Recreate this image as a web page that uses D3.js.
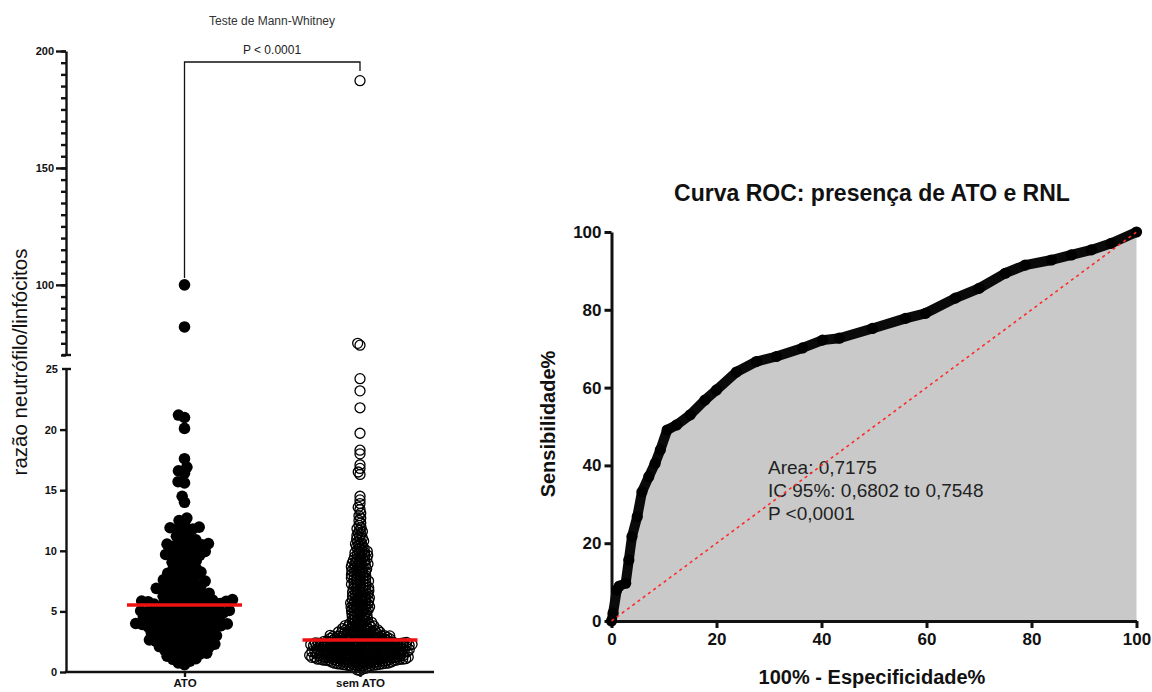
<!DOCTYPE html>
<html><head><meta charset="utf-8">
<script src="https://cdn.jsdelivr.net/npm/d3@7"></script>
<style>body{margin:0;background:#fff}svg{display:block}</style>
</head><body>
<svg id="c" width="1152" height="692"></svg>
<script>
// ---------- DATA ----------
const categories = ["ATO", "sem ATO"];
const atoValues = [
 0.6,0.75,0.9,
 1.05,1.1,1.2,1.3,1.35,1.45,1.5,1.55,1.65,1.75,1.8,1.85,1.95,
 2.0,2.05,2.1,2.15,2.2,2.3,2.35,2.4,2.45,2.5,2.55,2.6,2.65,2.7,2.75,2.8,2.85,2.9,2.95,
 3.0,3.05,3.1,3.15,3.2,3.25,3.3,3.35,3.4,3.45,3.5,3.55,3.6,3.65,3.7,3.72,3.75,3.8,3.82,3.85,3.9,3.93,3.97,
 4.0,4.03,4.07,4.1,4.15,4.2,4.25,4.3,4.33,4.37,4.4,4.45,4.5,4.55,4.6,4.63,4.67,4.7,4.75,4.8,4.83,4.87,4.9,4.93,4.97,
 5.0,5.04,5.08,5.12,5.16,5.2,5.25,5.3,5.35,5.4,5.45,5.5,5.55,5.6,5.64,5.68,5.72,5.76,5.78,5.8,5.83,5.86,5.9,5.94,5.97,
 6.05,6.1,6.2,6.25,6.3,6.35,6.45,6.5,6.6,6.65,6.7,6.75,6.8,6.9,6.95,
 7.05,7.1,7.2,7.3,7.35,7.4,7.5,7.6,7.7,7.75,7.85,7.95,
 8.05,8.15,8.25,8.3,8.4,8.5,8.6,8.75,8.85,8.95,
 9.05,9.2,9.3,9.45,9.55,9.6,9.65,9.7,9.85,9.95,
 10.05,10.15,10.25,10.35,10.45,10.5,10.55,10.6,10.7,10.8,10.9,
 11.05,11.2,11.4,11.6,11.75,11.8,11.9,11.95,
 12.2,12.5,12.7,
 14.0,14.5,15.6,15.7,16.4,16.6,16.9,17.6,20.1,21.0,21.2,82.0,100.0
];
const semAtoValues = [
 0.12,0.18,0.25,0.3,0.34,0.38,0.43,0.47,
 0.5,0.51,0.53,0.54,0.56,0.57,0.59,0.6,0.61,0.62,0.63,0.64,0.66,0.67,0.68,0.7,0.71,0.72,0.73,0.74,0.75,0.76,
 0.78,0.79,0.8,0.81,0.82,0.83,0.84,0.85,0.87,0.88,0.89,0.9,0.9,0.91,0.92,0.93,0.94,0.95,0.95,0.96,0.97,0.98,0.99,
 1.00,1.01,1.01,1.02,1.03,1.03,1.04,1.05,1.06,1.06,1.07,1.08,1.09,1.09,1.10,1.11,1.12,1.12,1.13,1.14,
 1.15,1.15,1.16,1.17,1.18,1.18,1.19,1.20,1.21,1.21,1.22,1.23,1.24,1.24,1.25,1.26,1.27,1.27,1.28,1.29,
 1.30,1.30,1.31,1.32,1.33,1.33,1.34,1.35,1.36,1.36,1.37,1.38,1.39,1.39,1.40,1.41,1.42,1.42,1.43,1.44,
 1.45,1.46,1.47,1.49,
 1.50,1.51,1.51,1.52,1.53,1.53,1.54,1.55,1.56,1.56,1.57,1.58,1.59,1.59,1.60,1.61,1.62,1.62,1.63,1.64,
 1.65,1.65,1.66,1.67,1.68,1.68,1.69,1.70,1.71,1.71,1.72,1.73,1.74,1.74,1.75,1.76,1.77,1.77,1.78,1.79,
 1.80,1.80,1.81,1.82,1.83,1.83,1.84,1.85,1.86,1.86,1.87,1.88,1.89,1.89,1.90,1.91,1.92,1.92,1.93,1.94,
 1.95,1.96,1.97,1.99,
 2.00,2.01,2.02,2.02,2.03,2.04,2.05,2.05,2.05,2.06,2.07,2.08,2.08,2.09,2.10,2.11,2.11,2.12,2.13,2.14,
 2.14,2.15,2.15,2.16,2.17,2.18,2.18,2.19,2.20,2.21,2.21,2.22,2.23,2.23,2.24,2.24,2.25,2.26,2.27,2.27,
 2.28,2.29,2.30,2.30,2.31,2.32,2.32,2.33,2.34,2.34,2.35,2.36,2.37,2.37,2.38,2.39,2.40,2.40,2.41,2.41,
 2.42,2.43,2.44,2.44,2.45,2.46,2.47,2.47,2.48,2.49,
 2.50,2.51,2.52,2.53,2.55,2.56,2.57,2.58,2.59,2.60,2.62,2.63,2.64,2.65,2.66,2.67,2.69,2.70,2.71,2.72,
 2.73,2.74,2.76,2.77,2.78,2.79,2.80,2.81,2.83,2.84,2.85,2.86,2.87,2.88,2.90,2.91,2.92,2.93,2.94,2.95,
 2.97,2.98,2.99,
 3.00,3.02,3.03,3.05,3.07,3.08,3.10,3.12,3.13,3.15,3.17,3.18,3.20,3.22,3.23,3.25,3.27,3.28,3.30,3.32,
 3.33,3.35,3.37,3.38,3.40,3.42,3.43,3.45,3.47,3.49,
 3.51,3.53,3.56,3.58,3.61,3.63,3.66,3.68,3.71,3.73,3.76,3.78,3.81,3.83,3.86,3.88,3.91,3.93,3.96,3.98,
 4.02,4.06,4.1,4.14,4.18,4.22,4.26,4.3,4.34,4.38,4.42,4.46,4.5,4.54,4.58,4.62,4.66,4.7,4.74,4.78,4.82,4.86,4.91,4.96,
 5.02,5.05,5.07,5.11,5.16,5.2,5.25,5.29,5.3,5.34,5.38,5.43,5.47,5.52,5.55,5.56,5.61,5.65,5.7,5.74,5.79,5.8,5.83,5.88,5.92,5.97,
 6.02,6.07,6.1,6.12,6.17,6.22,6.27,6.32,6.35,6.37,6.42,6.47,6.52,6.57,6.6,6.62,6.67,6.72,6.77,6.82,6.85,6.87,6.92,6.97,
 7.03,7.08,7.1,7.13,7.19,7.24,7.29,7.34,7.35,7.4,7.45,7.5,7.55,7.6,7.61,7.66,7.71,7.76,7.82,7.85,7.87,7.92,7.97,
 8.03,8.09,8.12,8.15,8.21,8.27,8.33,8.36,8.39,8.45,8.5,8.56,8.6,8.62,8.68,8.74,8.8,8.84,8.86,8.92,8.97,
 9.03,9.07,9.1,9.16,9.23,9.3,9.33,9.36,9.43,9.5,9.56,9.6,9.63,9.7,9.76,9.83,9.86,9.9,9.96,
 10.04,10.11,10.19,10.27,10.34,10.42,10.5,10.57,10.65,10.73,10.8,10.88,10.96,
 11.05,11.15,11.26,11.37,11.48,11.59,11.7,11.81,11.92,
 12.1,12.3,12.5,12.7,12.9,
 13.1,13.4,13.6,13.9,
 14.2,14.5,16.3,16.5,16.8,17.1,18.0,18.3,19.7,21.8,23.2,24.2,74.2,75.0,187.3
];
const lowTicks = [0, 5, 10, 15, 20, 25];
const highTicks = [100, 150, 200];
const highMinorTicks = d3.range(70, 201, 5);
const leftTitle = "Teste de Mann-Whitney";
const pLabel = "P < 0.0001";
const leftYLabel = "razão neutrófilo/linfócitos";

const rocFpr = [0,0.3,1,1.5,2.7,3.3,3.9,4.9,5.8,7.1,8.3,9.3,10.6,12.4,15,17.8,20,23.8,27.6,31.4,36.4,40.2,43.4,49.7,56,59.8,65.5,70,75,78.8,83.8,87.6,91.4,95.2,100];
const rocTpr = [0,2,8,9,9.7,15.7,21.7,26.8,33.2,37.1,40.5,44,49.1,50.4,53,56.8,59.4,64,66.7,68,70.2,72.2,72.7,75.2,77.8,79.1,83,85.5,89.4,91.5,92.8,94.1,95.4,97.1,100];
const rocTicks = [0, 20, 40, 60, 80, 100];
const rocTitle = "Curva ROC: presença de ATO e RNL";
const rocXLabel = "100% - Especificidade%";
const rocYLabel = "Sensibilidade%";
const rocNotes = ["Area: 0,7175", "IC 95%: 0,6802 to 0,7548", "P <0,0001"];

// ---------- DRAW ----------
const svg = d3.select("#c");
const FONT = "'Liberation Sans', Arial, Helvetica, sans-serif";
svg.style("font-family", FONT);

// ===== Left panel =====
const axX = 66;
const yLow = d3.scaleLinear().domain([0, 25]).range([672, 369]);
const yHigh = d3.scaleLinear().domain([70, 200]).range([355, 51]);
const yVal = v => v <= 25 ? yLow(v) : yHigh(v);
const xCat = d3.scalePoint().domain(categories).range([184.5, 360]);

function dodge(values, d) {
  const pts = values.map(v => ({v, y: yVal(v), x: 0})).sort((a, b) => b.y - a.y);
  const placed = [];
  for (const p of pts) {
    const near = placed.filter(q => Math.abs(q.y - p.y) < d);
    const cands = [0];
    for (const q of near) {
      const dx = Math.sqrt(d * d - (q.y - p.y) ** 2);
      cands.push(q.x + dx, q.x - dx);
    }
    cands.sort((a, b) => Math.abs(a) - Math.abs(b) || a - b);
    for (const c of cands) {
      if (near.every(q => (c - q.x) ** 2 + (p.y - q.y) ** 2 >= d * d - 1e-6)) { p.x = c; break; }
    }
    placed.push(p);
  }
  return pts;
}

const left = svg.append("g");

// points
const atoPts = dodge(atoValues, 6.5);
left.append("g").selectAll("circle").data(atoPts).join("circle")
  .attr("cx", d => xCat("ATO") + d.x).attr("cy", d => d.y).attr("r", 5.8)
  .attr("fill", "#000");
const semPts = dodge(semAtoValues, 3);
left.append("g").selectAll("circle").data(semPts).join("circle")
  .attr("cx", d => xCat("sem ATO") + d.x).attr("cy", d => d.y).attr("r", 5)
  .attr("fill", "none").attr("stroke", "#000").attr("stroke-width", 1.3);

// medians
[["ATO", atoValues], ["sem ATO", semAtoValues]].forEach(([c, vals]) => {
  const m = d3.median(vals);
  left.append("line").attr("x1", xCat(c) - 57.5).attr("x2", xCat(c) + 57.5)
    .attr("y1", yVal(m)).attr("y2", yVal(m))
    .attr("stroke", "#ee1111").attr("stroke-width", 3.5);
});

// axes
const axLow = left.append("g").attr("transform", `translate(${axX},0)`)
  .call(d3.axisLeft(yLow).tickValues(lowTicks.filter(t => t < 25)).tickSize(6).tickSizeOuter(0).tickPadding(3));
const axHighMinor = left.append("g").attr("transform", `translate(${axX},0)`)
  .call(d3.axisLeft(yHigh).tickValues(highMinorTicks).tickSize(5).tickSizeOuter(0).tickFormat(""));
const axHigh = left.append("g").attr("transform", `translate(${axX},0)`)
  .call(d3.axisLeft(yHigh).tickValues(highTicks).tickSize(10).tickSizeOuter(0).tickPadding(2));
[axLow, axHighMinor, axHigh].forEach(g => {
  g.selectAll("path,line").attr("stroke", "#111").attr("stroke-width", 2.4);
  g.selectAll("text").attr("fill", "#111").style("font-size", "11px").style("font-weight", "bold").style("font-family", FONT);
});
axHigh.select(".domain").remove();
// 25 label + break caps
left.append("text").attr("x", axX - 8).attr("y", yLow(25)).attr("dy", "0.32em")
  .attr("text-anchor", "end").style("font-size", "11px").style("font-weight", "bold").attr("fill", "#111").text(lowTicks[5]);
left.append("line").attr("x1", axX - 4).attr("x2", axX + 5).attr("y1", yLow(25)).attr("y2", yLow(25)).attr("stroke", "#111").attr("stroke-width", 2.4);
left.append("line").attr("x1", axX - 4).attr("x2", axX + 5).attr("y1", yHigh(70)).attr("y2", yHigh(70)).attr("stroke", "#111").attr("stroke-width", 2.4);

// x axis
left.append("line").attr("x1", axX - 1.2).attr("x2", 434).attr("y1", 672).attr("y2", 672)
  .attr("stroke", "#111").attr("stroke-width", 2.4);
const axBottom = left.append("g").attr("transform", "translate(0,672)")
  .call(d3.axisBottom(xCat).tickSize(5).tickSizeOuter(0).tickPadding(2));
axBottom.select(".domain").remove();
axBottom.selectAll("line").attr("stroke", "#111").attr("stroke-width", 2.4);
axBottom.selectAll("text").attr("fill", "#111").style("font-size", "11.5px").style("font-weight", "bold").style("font-family", FONT);

// bracket + titles
left.append("path")
  .attr("d", `M${xCat("ATO")},278 V62 H${xCat("sem ATO")} V71`)
  .attr("fill", "none").attr("stroke", "#111").attr("stroke-width", 1.3);
left.append("text").attr("x", 272).attr("y", 54).attr("text-anchor", "middle")
  .style("font-size", "12px").attr("fill", "#222").text(pLabel);
left.append("text").attr("x", 272).attr("y", 25).attr("text-anchor", "middle")
  .style("font-size", "12px").attr("fill", "#333").text(leftTitle);
left.append("text").attr("transform", "translate(27,362) rotate(-90)").attr("text-anchor", "middle")
  .style("font-size", "20.5px").attr("fill", "#111").text(leftYLabel);

// ===== ROC panel =====
const xR = d3.scaleLinear().domain([0, 100]).range([611.5, 1136.5]);
const yR = d3.scaleLinear().domain([0, 100]).range([621, 232]);
const rocPts = rocFpr.map((f, i) => [f, rocTpr[i]]);
const right = svg.append("g");

right.append("path").datum(rocPts)
  .attr("d", d3.area().x(d => xR(d[0])).y0(yR(0)).y1(d => yR(d[1])))
  .attr("fill", "#c9c9c9");

right.selectAll(".note").data(rocNotes).join("text")
  .attr("x", 768).attr("y", (d, i) => 474 + i * 23)
  .style("font-size", "19px").attr("fill", "#222").text(d => d);

const axRY = right.append("g").attr("transform", `translate(${xR(0)},0)`)
  .call(d3.axisLeft(yR).tickValues(rocTicks).tickSize(7).tickSizeOuter(0).tickPadding(3));
const axRX = right.append("g").attr("transform", `translate(0,${yR(0)})`)
  .call(d3.axisBottom(xR).tickValues(rocTicks).tickSize(7).tickSizeOuter(0).tickPadding(5));
[axRY, axRX].forEach(g => {
  g.selectAll("path,line").attr("stroke", "#111").attr("stroke-width", 3);
  g.selectAll("text").attr("fill", "#111").style("font-size", "17px").style("font-weight", "bold").style("font-family", FONT);
});

right.append("path").datum(rocPts)
  .attr("d", d3.line().x(d => xR(d[0])).y(d => yR(d[1])))
  .attr("fill", "none").attr("stroke", "#0a0a0a").attr("stroke-width", 10)
  .attr("stroke-linejoin", "round").attr("stroke-linecap", "round");
right.append("g").selectAll("circle").data(rocPts).join("circle")
  .attr("cx", d => xR(d[0])).attr("cy", d => yR(d[1])).attr("r", 5.6).attr("fill", "#000");

right.append("line").attr("x1", xR(0)).attr("y1", yR(0)).attr("x2", xR(100)).attr("y2", yR(100))
  .attr("stroke", "#ff2a2a").attr("stroke-width", 1.6).attr("stroke-dasharray", "3,3.5");

right.append("text").attr("x", 872).attr("y", 201).attr("text-anchor", "middle")
  .style("font-size", "23px").style("font-weight", "bold").attr("fill", "#111").text(rocTitle);
right.append("text").attr("x", 872).attr("y", 684).attr("text-anchor", "middle")
  .style("font-size", "20px").style("font-weight", "bold").attr("fill", "#111").text(rocXLabel);
right.append("text").attr("transform", "translate(555,424) rotate(-90)").attr("text-anchor", "middle")
  .style("font-size", "20px").style("font-weight", "bold").attr("fill", "#111").text(rocYLabel);
</script>
</body></html>
